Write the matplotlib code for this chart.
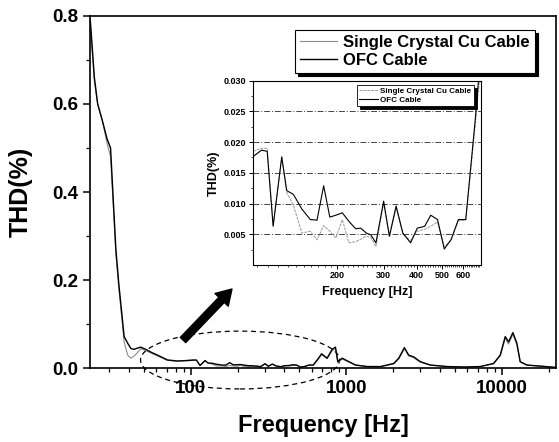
import matplotlib
matplotlib.use('Agg')
import matplotlib.pyplot as plt
from matplotlib.patches import Ellipse
from matplotlib.ticker import FixedLocator, NullFormatter, FormatStrFormatter, LogLocator
import numpy as np

plt.rcParams['font.family'] = ['Liberation Sans', 'DejaVu Sans']
plt.rcParams['font.weight'] = 'bold'
plt.rcParams['axes.labelweight'] = 'bold'

# measured THD vs frequency for both cables
freq = [22.6, 24, 25.2, 27.1, 29, 30.5, 33, 34.5, 37.3, 39.3, 41.2, 43.3, 45.5, 47.7,
        51.4, 56, 61.1, 70.8, 82.2, 96, 103.7, 108.9, 114.7, 123.6, 129.1, 136.8, 147.3,
        158.5, 168, 178, 187.8, 198, 209.4, 221.8, 235.3, 245.8, 258, 268.4, 280.5, 300,
        315.4, 334.4, 354.6, 379.3, 402, 428.8, 452, 479.5, 508.5, 539, 575, 613, 665,
        694, 753, 811, 852, 882, 941, 1014, 1146, 1362, 1660, 2018, 2174, 2365, 2519,
        2713, 2993, 3470, 4440, 5800, 7260, 8850, 9770, 10520, 11050, 11780, 12500,
        13130, 14500, 17660, 22300]

thd_single = [0.78, 0.65, 0.60, 0.56, 0.51, 0.48, 0.26, 0.18, 0.06, 0.030, 0.023, 0.028,
              0.036, 0.045, 0.040, 0.034, 0.028, 0.018, 0.016, 0.0185, 0.019, 0.019,
              0.0065, 0.0175, 0.0118, 0.0097, 0.0052, 0.0055, 0.0041, 0.0064, 0.0055,
              0.0044, 0.0074, 0.0036, 0.0038, 0.0042, 0.0047, 0.0045, 0.0030, 0.0100,
              0.0045, 0.0093, 0.0050, 0.0040, 0.0055, 0.0058, 0.0063, 0.0070, 0.0030,
              0.0040, 0.0072, 0.0073, 0.0225, 0.031, 0.022, 0.040, 0.045, 0.014, 0.021,
              0.016, 0.007, 0.004, 0.0035, 0.010, 0.021, 0.044, 0.028, 0.024, 0.014,
              0.007, 0.004, 0.003, 0.004, 0.010, 0.028, 0.068, 0.055, 0.077, 0.053,
              0.014, 0.007, 0.005, 0.002]

thd_ofc = [0.79, 0.66, 0.60, 0.56, 0.52, 0.50, 0.27, 0.19, 0.072, 0.057, 0.045, 0.043,
           0.046, 0.048, 0.043, 0.036, 0.030, 0.019, 0.0166, 0.0176, 0.0187, 0.0185,
           0.0063, 0.0176, 0.0121, 0.0115, 0.0091, 0.0074, 0.0073, 0.0129, 0.0078,
           0.0081, 0.0085, 0.0071, 0.0059, 0.0060, 0.0052, 0.0049, 0.0036, 0.0104,
           0.0047, 0.0096, 0.0052, 0.0036, 0.0060, 0.0063, 0.0081, 0.0074, 0.0026,
           0.0041, 0.0074, 0.0074, 0.0234, 0.033, 0.023, 0.043, 0.048, 0.015, 0.023,
           0.017, 0.0075, 0.004, 0.004, 0.011, 0.023, 0.047, 0.030, 0.026, 0.015,
           0.0075, 0.004, 0.003, 0.004, 0.011, 0.030, 0.072, 0.060, 0.081, 0.057,
           0.015, 0.0075, 0.005, 0.002]

labels = ['Single Crystal Cu Cable', 'OFC Cable']
main_xticks = [100, 1000, 10000]
main_yticks = [0.0, 0.2, 0.4, 0.6, 0.8]
inset_xticks = [200, 300, 400, 500, 600]
inset_yticks = [0.005, 0.010, 0.015, 0.020, 0.025, 0.030]

fig = plt.figure(figsize=(5.59, 4.42), dpi=100)
ax = fig.add_axes([0.161, 0.1667, 0.8336, 0.7978])

ax.plot(freq, thd_single, color='#8a8a8a', lw=0.8, label=labels[0])
ax.plot(freq, thd_ofc, color='black', lw=1.0, label=labels[1])
ax.set_xscale('log')
ax.set_xlim(22.5, 22300)
ax.set_ylim(0, 0.8)
ax.set_xticks(main_xticks)
ax.set_xticklabels([str(t) for t in main_xticks])
ax.xaxis.set_minor_locator(LogLocator(base=10, subs=np.arange(2, 10)))
ax.xaxis.set_minor_formatter(NullFormatter())
ax.set_yticks(main_yticks)
ax.yaxis.set_major_formatter(FormatStrFormatter('%.1f'))
ax.set_yticks([0.1, 0.3, 0.5, 0.7], minor=True)
ax.tick_params(which='major', direction='out', length=5, width=1.1, labelsize=13.5)
ax.tick_params(which='minor', direction='out', length=3, width=0.9)
for s in ax.spines.values():
    s.set_linewidth(1.2)
ax.set_xlabel('Frequency [Hz]', fontsize=17, labelpad=12)
ax.set_ylabel('THD(%)', fontsize=18, labelpad=14)

leg = ax.legend(loc='upper left', bbox_to_anchor=(295 / 559, 1 - 30 / 442),
                bbox_transform=fig.transFigure, borderaxespad=0, fontsize=12,
                frameon=True, fancybox=False, shadow={'color': 'black', 'alpha': 1},
                edgecolor='black', handlelength=2.2, handletextpad=0.4,
                labelspacing=0.2, borderpad=0.3)
leg.get_frame().set_linewidth(0.8)

# dashed ring around the low-frequency region and arrow pointing to the zoom
ax.add_patch(Ellipse((0.322, 0.0235), 0.427, 0.164, transform=ax.transAxes,
                     fill=False, ls=(0, (4, 3)), lw=0.9, color='black', clip_on=False))
ax.annotate('', xy=(0.3047, 0.2249), xytext=(0.1996, 0.0803),
            xycoords='axes fraction', textcoords='axes fraction',
            arrowprops=dict(arrowstyle='simple,head_length=0.9,head_width=1.1,tail_width=0.45',
                            mutation_scale=12, color='black', shrinkA=0, shrinkB=0))

# inset zoom of 100-700 Hz
ins = fig.add_axes([252.7 / 559, 1 - 265 / 442, 228.3 / 559, 184.3 / 442])
ins.plot(freq, thd_single, color='#9a9a9a', lw=0.7, ls=(0, (3, 1)), label=labels[0])
ins.plot(freq, thd_ofc, color='black', lw=0.8, label=labels[1])
ins.set_xscale('log')
ins.set_xlim(96, 700)
ins.set_ylim(0, 0.030)
ins.xaxis.set_major_locator(FixedLocator(inset_xticks))
ins.set_xticklabels([str(t) for t in inset_xticks])
ins.xaxis.set_minor_locator(FixedLocator([f for f in range(100, 700, 10) if f not in inset_xticks]))
ins.xaxis.set_minor_formatter(NullFormatter())
ins.set_yticks(inset_yticks)
ins.yaxis.set_major_formatter(FormatStrFormatter('%.3f'))
ins.set_yticks(np.arange(0.0025, 0.030, 0.005), minor=True)
ins.tick_params(which='major', direction='out', length=3, width=0.7, labelsize=6.5, pad=1.5)
ins.tick_params(which='minor', direction='out', length=1.5, width=0.5)
for s in ins.spines.values():
    s.set_linewidth(0.8)
for yv in inset_yticks[:-1]:
    ins.axhline(yv, color='#444444', lw=0.7, ls=(0, (6, 2, 1, 2)), zorder=0)
ins.set_xlabel('Frequency [Hz]', fontsize=9, labelpad=4)
ins.set_ylabel('THD(%)', fontsize=9, labelpad=3)

ileg = ins.legend(loc='upper left', bbox_to_anchor=(357 / 559, 1 - 85 / 442),
                  bbox_transform=fig.transFigure, borderaxespad=0, fontsize=5.8,
                  frameon=True, fancybox=False, shadow={'color': 'black', 'alpha': 1},
                  edgecolor='black', handlelength=2.3, handletextpad=0.3,
                  labelspacing=0.1, borderpad=0.3)
ileg.get_frame().set_linewidth(0.6)

fig.savefig('out.png', dpi=100)
